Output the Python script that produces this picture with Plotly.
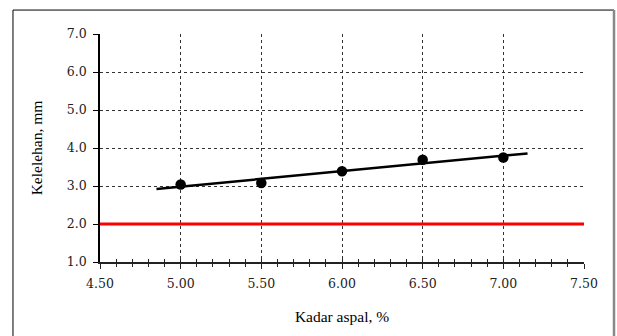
import numpy as np
import plotly.graph_objects as go

kadar_aspal = [5.00, 5.50, 6.00, 6.50, 7.00]
kelelehan = [3.04, 3.08, 3.39, 3.69, 3.75]
batas_min = 2.0
x_ticks = [4.50, 5.00, 5.50, 6.00, 6.50, 7.00, 7.50]
y_ticks = [1.0, 2.0, 3.0, 4.0, 5.0, 6.0, 7.0]
trend_extend = 0.15

slope, intercept = np.polyfit(kadar_aspal, kelelehan, 1)
tx = np.array([min(kadar_aspal) - trend_extend, max(kadar_aspal) + trend_extend])
ty = slope * tx + intercept

TICKFONT = dict(family="DejaVu Serif", size=12.5, color="#222")
TITLEFONT = dict(family="Liberation Serif", size=15.5, color="black")

fig = go.Figure()
fig.add_trace(go.Scatter(x=[x_ticks[0], x_ticks[-1]], y=[batas_min, batas_min], mode="lines",
                         line=dict(color="#FF0000", width=3), showlegend=False, hoverinfo="skip"))
fig.add_trace(go.Scatter(x=tx, y=ty, mode="lines", line=dict(color="black", width=2.5),
                         showlegend=False))
fig.add_trace(go.Scatter(x=kadar_aspal, y=kelelehan, mode="markers",
                         marker=dict(color="black", size=10.5), showlegend=False))

fig.update_layout(
    width=617, height=336,
    margin=dict(l=100, r=33, t=34, b=74),
    paper_bgcolor="white", plot_bgcolor="white",
    font=dict(family="Liberation Serif", size=13, color="black"),
    xaxis=dict(range=[x_ticks[0], x_ticks[-1]], tickvals=x_ticks,
               ticktext=[f"{v:.2f}" for v in x_ticks], tickfont=TICKFONT,
               showgrid=True, gridcolor="#333", griddash="dot", gridwidth=1,
               showline=True, linecolor="#222", linewidth=1.5,
               ticks="outside", ticklen=5, tickcolor="#222", tickwidth=1.2,
               minor=dict(dtick=0.1, tick0=4.5, ticks="outside", ticklen=3, tickcolor="#222",
                          tickwidth=1.2, showgrid=False),
               zeroline=False, ticklabelstandoff=4,
               title=dict(text="Kadar aspal, %", font=TITLEFONT, standoff=21)),
    xaxis2=dict(range=[x_ticks[0], x_ticks[-1]], overlaying="x", anchor="y",
                side="bottom", showgrid=False, showticklabels=False,
                ticks="inside", ticklen=3, dtick=0.1, tick0=4.5, tickcolor="#222",
                tickwidth=1.2, zeroline=False, showline=False),
    yaxis=dict(range=[y_ticks[0], y_ticks[-1]], tickvals=y_ticks,
               ticktext=[f"{v:.1f}" for v in y_ticks], tickfont=TICKFONT,
               showgrid=True, gridcolor="#333", griddash="dot", gridwidth=1,
               showline=True, linecolor="black", linewidth=1.5,
               ticks="outside", ticklen=5, tickcolor="black", tickwidth=1.2,
               zeroline=False, ticklabelstandoff=4,
               title=dict(text="Kelelehan, mm", font=TITLEFONT, standoff=20)),
)
fig.add_trace(go.Scatter(x=[None], y=[None], xaxis="x2", showlegend=False))

# outer chart border
fig.add_shape(type="line", xref="paper", yref="paper", x0=-0.1798, x1=-0.1798, y0=-0.4, y1=1.105,
              line=dict(color="black", width=1))
fig.add_shape(type="line", xref="paper", yref="paper", x0=-0.1798, x1=1.062, y0=1.105, y1=1.105,
              line=dict(color="black", width=1))
fig.add_shape(type="line", xref="paper", yref="paper", x0=1.062, x1=1.062, y0=-0.4, y1=1.105,
              line=dict(color="#888", width=2.5))

fig.write_html("out.html", config={"displayModeBar": False},
               post_script="document.body.style.margin='0';document.body.style.overflow='hidden';")
